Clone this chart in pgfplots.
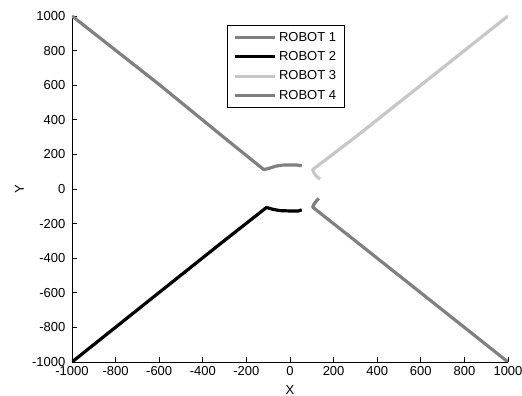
\documentclass[border=0pt]{standalone}
\usepackage{fontspec}
\setmainfont{Liberation Sans}
\usepackage{pgfplots}
\pgfplotsset{compat=1.18}
\definecolor{robA}{gray}{0.5}
\definecolor{robC}{gray}{0.78}
\begin{document}
\fontsize{9.75}{11.7}\selectfont
\begin{tikzpicture}
\begin{axis}[
  scale only axis,
  width=327pt, height=259.5pt,
  xmin=-1000, xmax=1000, ymin=-1000, ymax=1000,
  enlargelimits=false,
  axis lines*=left,
  axis line style={line width=0.6pt, -},
  tick align=inside,
  major tick length=3.75pt,
  tick style={line width=0.6pt, black},
  xtick={-1000,-800,...,1000},
  ytick={-1000,-800,...,1000},
  scaled ticks=false,
  /pgf/number format/1000 sep={},
  /pgf/number format/assume math mode=true,
  yticklabel style={xshift=-1.5pt},
  xlabel={X}, ylabel={Y},
  every axis x label/.style={at={(axis description cs:0.5,-0.0824)}, anchor=center},
  every axis y label/.style={at={(axis description cs:-0.1204,0.5)}, anchor=center, rotate=90},
  legend style={at={(axis description cs:0.4908,0.974)}, anchor=north, draw=black, line width=0.6pt,
    inner xsep=4.3pt, inner ysep=3pt, row sep=2.2pt,
    nodes={inner sep=2pt, text depth=0.15em}},
  legend cell align=left,
  legend image code/.code={\draw[#1] (0pt,0pt) -- (30pt,0pt);},
]
\addplot[color=robA, line width=2.4pt, line join=round] coordinates {
(-1000,1000) (-600,604) (-300,295) (-120,112) (-95,120) (-65,132) (-35,138) (0,139) (30,139) (54,134)};
\addlegendentry{ROBOT 1}
\addplot[color=black, line width=2.4pt, line join=round] coordinates {
(-1000,-1000) (-600,-598) (-300,-297) (-108,-107) (-80,-117) (-46,-125) (0,-127) (37,-127) (54,-121)};
\addlegendentry{ROBOT 2}
\addplot[color=robC, line width=2.4pt, line join=round] coordinates {
(1000,1000) (600,600) (300,300) (104,112) (112,88) (126,68) (138,58)};
\addlegendentry{ROBOT 3}
\addplot[color=robA, line width=2.4pt, line join=round] coordinates {
(1000,-1000) (600,-600) (300,-300) (104,-105) (112,-83) (132,-54)};
\addlegendentry{ROBOT 4}
\end{axis}
\pgfresetboundingbox
\path (current axis.south west) ++(-54pt,-25.5pt) rectangle ++(391.5pt,297pt);
\end{tikzpicture}
\end{document}
